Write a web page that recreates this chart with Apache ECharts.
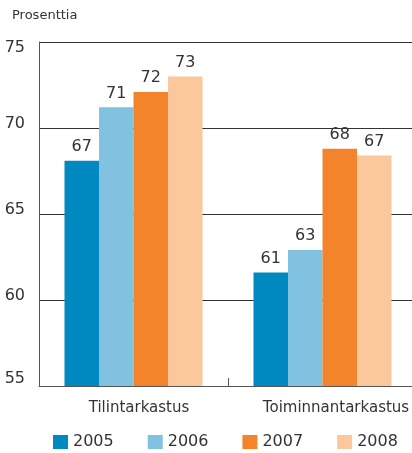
<!DOCTYPE html>
<html>
<head>
<meta charset="utf-8">
<script src="https://cdn.jsdelivr.net/npm/echarts@6/dist/echarts.min.js"></script>
<style>
  html, body { margin: 0; padding: 0; background: #fff; }
  #chart { width: 412px; height: 453px; }
</style>
</head>
<body>
<div id="chart"></div>
<script>
// kategoriat ja vuodet
const categories = ['Tilintarkastus', 'Toiminnantarkastus'];
const years = ['2005', '2006', '2007', '2008'];
const colors = ['#0088c0', '#80c2e0', '#f4842c', '#fbc89c'];

// pylväiden korkeudet (luettu kuvasta) ja niiden päällä olevat luvut
const values2005 = [68.1, 61.6];
const values2006 = [71.2, 62.9];
const values2007 = [72.1, 68.8];
const values2008 = [73.0, 68.4];
const labels2005 = [67, 61];
const labels2006 = [71, 63];
const labels2007 = [72, 68];
const labels2008 = [73, 67];

const yTicks = { min: 55, max: 75, step: 5 };

const valueSets = [values2005, values2006, values2007, values2008];
const labelSets = [labels2005, labels2006, labels2007, labels2008];
const font = 'DejaVu Sans';

const chart = echarts.init(document.getElementById('chart'));

chart.setOption({
  animation: false,
  textStyle: { fontFamily: font },
  graphic: [{
    type: 'text', left: 12, top: 9,
    style: { text: 'Prosenttia', font: '13px "DejaVu Sans"', fill: '#333' }
  }],
  // ruudukko jatkuu kuvan oikean reunan yli
  grid: { left: 39, width: 378, top: 42, bottom: 67, outerBoundsMode: 'none', containLabel: false },
  legend: {
    top: 434, left: 53, padding: 0,
    icon: 'rect', itemWidth: 15, itemHeight: 14, itemGap: 34,
    textStyle: { fontSize: 16, color: '#333', fontFamily: font, padding: [3, 0, 0, 0] },
    data: years
  },
  xAxis: {
    type: 'category',
    data: categories,
    axisLine: { lineStyle: { color: '#555', width: 1 } },
    axisTick: { show: true, inside: true, interval: 0, length: 8, lineStyle: { color: '#555' } },
    axisLabel: {
      interval: 0, margin: 15,
      formatter: (v, i) => '{c' + i + '|' + v + '}',
      rich: {
        c0: { fontSize: 15, color: '#333', fontFamily: font, padding: [0, 0, 0, 11] },
        c1: { fontSize: 15, color: '#333', fontFamily: font, padding: [0, 0, 0, 27] }
      }
    }
  },
  yAxis: {
    type: 'value',
    min: yTicks.min, max: yTicks.max, interval: yTicks.step,
    axisLine: { show: true, lineStyle: { color: '#555' } },
    axisTick: { show: false },
    axisLabel: {
      margin: 14,
      formatter: v => v === yTicks.max ? '{t|' + v + '}' : v === yTicks.min ? '{b|' + v + '}' : '{m|' + v + '}',
      rich: {
        t: { fontSize: 16, color: '#333', fontFamily: font, padding: [12, 0, 0, 0] },
        m: { fontSize: 16, color: '#333', fontFamily: font, padding: [0, 0, 8, 0] },
        b: { fontSize: 16, color: '#333', fontFamily: font, padding: [0, 0, 14, 0] }
      }
    },
    splitLine: { lineStyle: { color: '#333', width: 1 } }
  },
  series: years.map((y, i) => ({
    name: y,
    type: 'bar',
    data: valueSets[i],
    barGap: '0%',
    barCategoryGap: '27%',
    itemStyle: { color: colors[i] },
    label: {
      show: true, position: 'top', distance: 6,
      fontSize: 16, color: '#333', fontFamily: font,
      formatter: p => labelSets[i][p.dataIndex]
    }
  }))
});
</script>
</body>
</html>
